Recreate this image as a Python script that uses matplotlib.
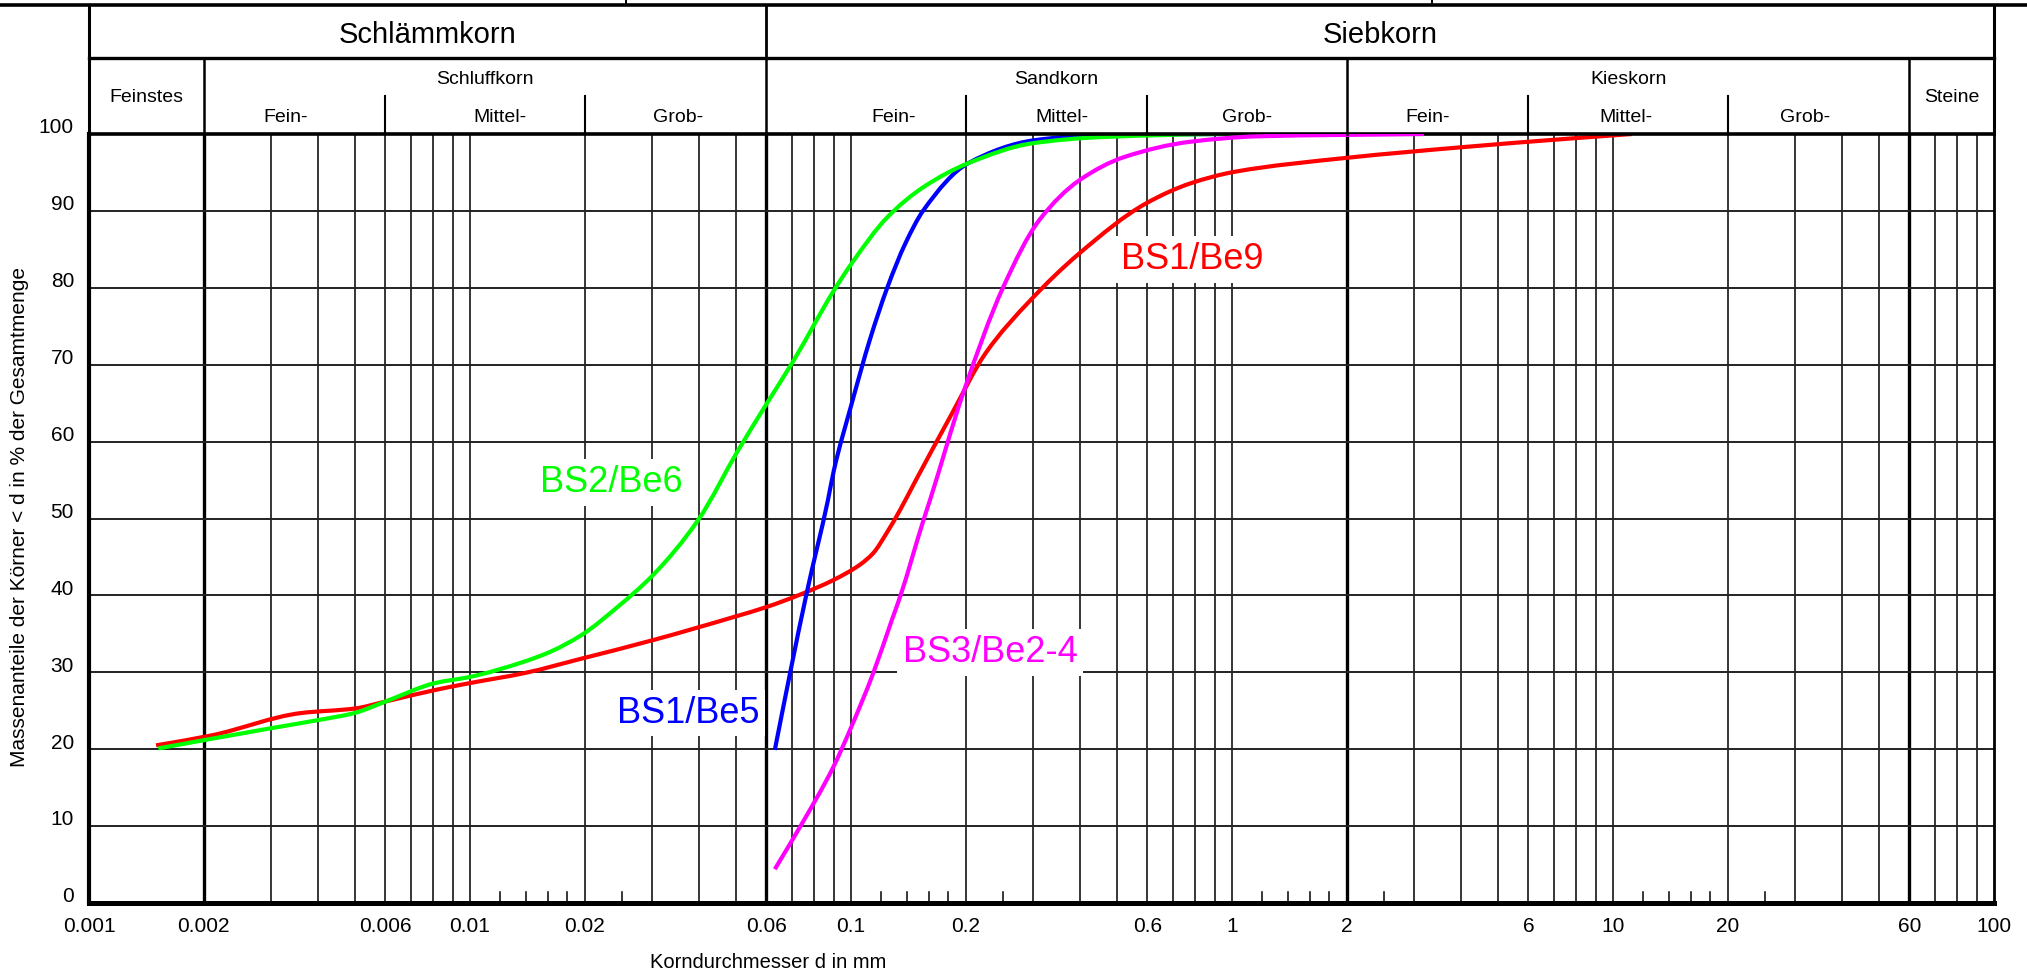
import numpy as np
import matplotlib
matplotlib.use('Agg')
import matplotlib.pyplot as plt
from matplotlib import transforms
from matplotlib.path import Path
from matplotlib.patches import PathPatch

plt.rcParams['font.family'] = ['Liberation Sans', 'DejaVu Sans']

# ---------------- data ----------------
be9_d = [0.0015, 0.0021, 0.0036, 0.005, 0.006, 0.0081, 0.01, 0.0139, 0.0197, 0.0303,
         0.0493, 0.0601, 0.0735, 0.0899, 0.1056, 0.1144, 0.124, 0.1345, 0.1466, 0.182,
         0.2256, 0.296, 0.398, 0.596, 0.78, 1.02, 2.0, 4.05, 7.67, 11.2]
be9_p = [20.5, 21.8, 24.7, 25.3, 26.2, 27.7, 28.6, 29.9, 31.8, 34.2,
         37.2, 38.5, 40.1, 42.0, 44.0, 45.5, 48.1, 51.1, 54.6, 63.2,
         71.5, 78.4, 84.5, 91.0, 93.6, 95.1, 96.9, 98.3, 99.4, 100.0]

be6_d = [0.00152, 0.00298, 0.00401, 0.00497, 0.006, 0.0081, 0.01, 0.0139, 0.0163, 0.0197,
         0.0244, 0.0303, 0.0397, 0.0506, 0.0602, 0.0708, 0.0903, 0.1005, 0.1247, 0.155,
         0.203, 0.30, 0.455, 1.0, 3.17]
be6_p = [20.1, 22.7, 23.8, 24.7, 26.2, 28.6, 29.4, 31.4, 32.7, 34.9,
         38.5, 42.7, 49.8, 58.9, 65.0, 70.6, 79.7, 83.2, 89.2, 93.1,
         96.2, 98.8, 99.6, 100.0, 100.0]

be5_d = [0.0631, 0.0692, 0.0765, 0.087, 0.0902, 0.1005, 0.112, 0.1247, 0.139, 0.155,
         0.203, 0.304, 0.455, 1.0]
be5_p = [19.9, 29.9, 40.3, 52.4, 56.3, 65.0, 73.2, 80.1, 85.8, 90.1,
         96.2, 99.2, 99.9, 100.0]

be24_d = [0.0631, 0.0735, 0.0899, 0.0994, 0.1144, 0.128, 0.1345, 0.155, 0.1612, 0.197,
          0.251, 0.312, 0.398, 0.521, 0.78, 1.17, 3.19]
be24_p = [4.4, 9.9, 17.7, 22.5, 29.9, 36.8, 39.8, 49.8, 52.4, 66.3,
          80.1, 88.8, 94.0, 97.0, 99.0, 99.7, 100.0]

series_names = ['BS1/Be9', 'BS1/Be5', 'BS2/Be6', 'BS3/Be2-4']
series_colors = ['#ff0000', '#0000ff', '#00ff00', '#ff00ff']
series_d = [be9_d, be5_d, be6_d, be24_d]
series_p = [be9_p, be5_p, be6_p, be24_p]
label_pos = [(0.785, 83.7), (0.0373, 24.7), (0.02344, 54.7), (0.2317, 32.6)]

xtick_vals = [0.001, 0.002, 0.006, 0.01, 0.02, 0.06, 0.1, 0.2, 0.6, 1, 2, 6, 10, 20, 60, 100]
xtick_labels = ['0.001', '0.002', '0.006', '0.01', '0.02', '0.06', '0.1', '0.2', '0.6',
                '1', '2', '6', '10', '20', '60', '100']
ytick_vals = list(range(0, 101, 10))

header_top = [('Schlämmkorn', 0.001, 0.06), ('Siebkorn', 0.06, 100)]
header_mid = [('Schluffkorn', 0.002, 0.06), ('Sandkorn', 0.06, 2), ('Kieskorn', 2, 60)]
header_side = [('Feinstes', 0.001, 0.002), ('Steine', 60, 100)]
sub_names = ['Fein-', 'Mittel-', 'Grob-'] * 3


def smooth_path(d, p):
    """Monotone cubic (Fritsch-Carlson) rendering through the points, in log-x space."""
    x = np.log10(np.asarray(d, float))
    y = np.asarray(p, float)
    n = len(x)
    h = np.diff(x)
    delta = np.diff(y) / h
    m = np.zeros(n)
    m[0], m[-1] = delta[0], delta[-1]
    for k in range(1, n - 1):
        if delta[k - 1] * delta[k] <= 0:
            m[k] = 0.0
        else:
            w1 = 2 * h[k] + h[k - 1]
            w2 = h[k] + 2 * h[k - 1]
            m[k] = (w1 + w2) / (w1 / delta[k - 1] + w2 / delta[k])
    verts = [(x[0], y[0])]
    codes = [Path.MOVETO]
    for k in range(n - 1):
        verts += [(x[k] + h[k] / 3, y[k] + m[k] * h[k] / 3),
                  (x[k + 1] - h[k] / 3, y[k + 1] - m[k + 1] * h[k] / 3),
                  (x[k + 1], y[k + 1])]
        codes += [Path.CURVE4] * 3
    verts = np.array(verts)
    verts[:, 0] = 10 ** verts[:, 0]
    return Path(verts, codes)


# ---------------- figure ----------------
W, H = 2027, 972
fig = plt.figure(figsize=(W / 100, H / 100), dpi=100)


def fx(px):
    return px / W


def fy(py):
    return 1 - py / H


X0, X1, Y0, Y1 = 89, 1994, 903, 134
ax = fig.add_axes([fx(X0), fy(Y0), fx(X1) - fx(X0), fy(Y1) - fy(Y0)])
ax.set_xscale('log')
ax.set_xlim(0.001, 100)
ax.set_ylim(0, 100)
ax.xaxis.set_major_locator(matplotlib.ticker.NullLocator())
ax.xaxis.set_minor_locator(matplotlib.ticker.NullLocator())
ax.yaxis.set_major_locator(matplotlib.ticker.NullLocator())

bold = [0.002, 0.06, 2, 60]
for dec in [0.001, 0.01, 0.1, 1, 10]:
    for m in range(2, 10):
        v = round(m * dec, 6)
        lw = 2.4 if any(abs(v - b) < 1e-9 for b in bold) else 1.1
        ax.axvline(v, color='black', lw=lw, zorder=1)
    if dec < 10:
        ax.axvline(dec * 10, color='black', lw=1.1, zorder=1)
for dec in [0.01, 0.1, 1, 10]:
    for m in [1.2, 1.4, 1.6, 1.8, 2.5]:
        ax.plot([m * dec, m * dec], [0, 1.4], color='black', lw=1.1, zorder=1)
for yv in range(10, 100, 10):
    ax.axhline(yv, color='#222222', lw=1.4, zorder=1)

for side, lw in [('bottom', 3.6), ('top', 2.6), ('left', 3.0), ('right', 2.0)]:
    ax.spines[side].set_linewidth(lw)
    ax.spines[side].set_zorder(6)

bx = transforms.blended_transform_factory(ax.transData, ax.transAxes)
for v, s in zip(xtick_vals, xtick_labels):
    ax.text(v, -(926 - Y0) / (Y0 - Y1), s, transform=bx, ha='center', va='center',
            fontsize=15, clip_on=False)
by = transforms.blended_transform_factory(ax.transAxes, ax.transData)
for v in ytick_vals:
    ax.text((74 - X0) / (X1 - X0), v + 0.8, str(v), transform=by, ha='right', va='center',
            fontsize=15, clip_on=False)

fig.text(fx(768), fy(962), 'Korndurchmesser d in mm', ha='center', va='center', fontsize=14.5)
fig.text(fx(20), fy(517), 'Massenanteile der Körner < d in % der Gesamtmenge', ha='center',
         va='center', rotation=90, fontsize=15)

for i, (name, c, d, p) in enumerate(zip(series_names, series_colors, series_d, series_p)):
    patch = PathPatch(smooth_path(d, p), fill=False, ec=c, lw=3.0, zorder=4 + i,
                      capstyle='butt', joinstyle='round')
    ax.add_patch(patch)
    lx, ly = label_pos[i]
    ax.text(lx, ly, name, color=c, fontsize=26, ha='center', va='center', zorder=3,
            bbox=dict(boxstyle='square,pad=0.16', fc='white', ec='none'))

# ---------------- header ----------------
HT = 5.5
hx = fig.add_axes([fx(X0), fy(Y1), fx(X1) - fx(X0), fy(HT) - fy(Y1)])
hx.set_xscale('log')
hx.set_xlim(0.001, 100)
hx.set_ylim(0, 1)
hx.axis('off')
row = (Y1 - 58) / (Y1 - HT)
sub = (Y1 - 96) / (Y1 - HT)
lk = dict(color='black', clip_on=False, solid_capstyle='projecting')
hx.plot([0.001, 0.001], [0, 1], lw=2.2, **lk)
hx.plot([100, 100], [0, 1], lw=2.2, **lk)
hx.plot([0.001, 100], [row, row], lw=2.4, **lk)
hx.plot([0.06, 0.06], [row, 1], lw=2.0, **lk)
for v in [0.002, 0.06, 2, 60]:
    hx.plot([v, v], [0, row], lw=1.8, **lk)
for v in [0.006, 0.02, 0.2, 0.6, 6, 20]:
    hx.plot([v, v], [0, sub], lw=1.5, **lk)


def ty(py):
    return (Y1 - py) / (Y1 - HT)


for s, a, b in header_top:
    hx.text(np.sqrt(a * b), ty(35), s, ha='center', va='center', fontsize=21)
for s, a, b in header_mid:
    hx.text(np.sqrt(a * b), ty(79), s, ha='center', va='center', fontsize=14)
for s, a, b in header_side:
    hx.text(np.sqrt(a * b), ty(98), s, ha='center', va='center', fontsize=14)
sub_px = [286, 500, 678, 894, 1062, 1247, 1428, 1626, 1805]
for s, px in zip(sub_names, sub_px):
    hx.text(10 ** (-3 + (px - X0) / (X1 - X0) * 5), ty(117), s, ha='center', va='center',
            fontsize=14)

fig.add_artist(plt.Line2D([0, 1], [fy(5), fy(5)], color='black', lw=2.6,
                          transform=fig.transFigure))
for px in [626, 1432]:
    fig.add_artist(plt.Line2D([fx(px), fx(px)], [fy(0), fy(5)], color='black', lw=1.4,
                              transform=fig.transFigure))

fig.savefig('out.png', dpi=100, facecolor='white')
